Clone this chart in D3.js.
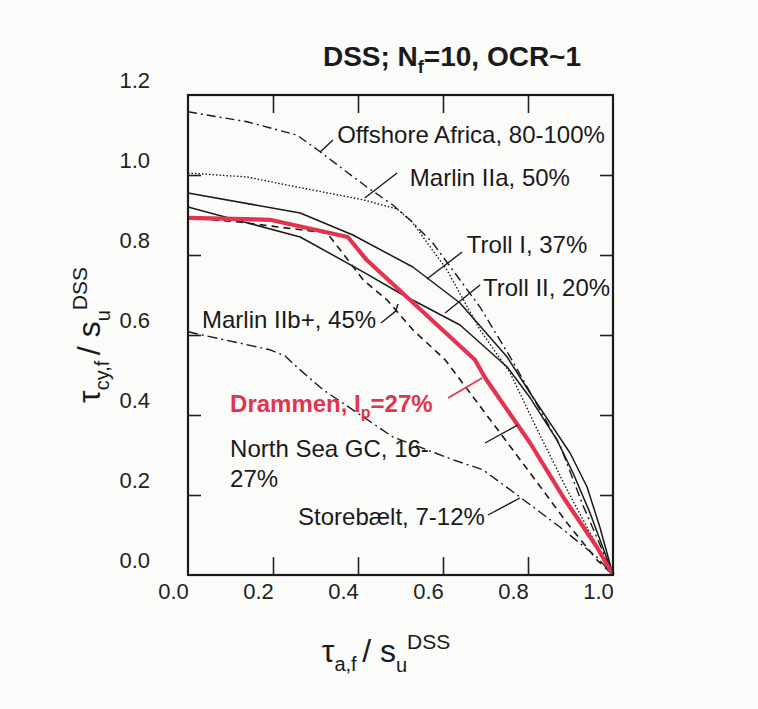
<!DOCTYPE html>
<html>
<head>
<meta charset="utf-8">
<script src="https://cdn.jsdelivr.net/npm/d3@7"></script>
<style>
  body { margin: 0; background: #fbfbfa; }
  svg { font-family: "Liberation Sans", Arial, sans-serif; }
</style>
</head>
<body>
<svg id="chart" width="758" height="709"></svg>
<script>

// values: [tau_a,f / su, tau_cy,f / su]
var offshoreAfrica = [[0,1.158],[0.139,1.133],[0.256,1.10],[0.311,1.058],[0.358,1.02],[0.421,0.97],[0.482,0.925],[0.522,0.888],[0.576,0.83],[0.687,0.67],[0.762,0.538],[0.828,0.413],[0.875,0.325],[0.929,0.175],[1.0,0]];
var marlinIIa = [[0,1.005],[0.139,0.995],[0.256,0.97],[0.412,0.938],[0.492,0.915],[0.527,0.883],[0.553,0.845],[0.609,0.763],[0.687,0.613],[0.758,0.505],[0.828,0.35],[0.892,0.213],[0.946,0.105],[1.0,0]];
var trollI = [[0,0.955],[0.264,0.905],[0.388,0.85],[0.529,0.77],[0.64,0.68],[0.751,0.545],[0.805,0.455],[0.847,0.388],[0.899,0.305],[0.939,0.22],[0.969,0.12],[1.0,0]];
var trollII = [[0,0.92],[0.264,0.845],[0.412,0.758],[0.506,0.70],[0.64,0.625],[0.751,0.52],[0.805,0.443],[0.868,0.338],[0.906,0.255],[0.946,0.155],[1.0,0]];
var marlinIIb = [[0,0.893],[0.115,0.883],[0.327,0.855],[0.358,0.813],[0.412,0.738],[0.468,0.688],[0.529,0.613],[0.605,0.538],[0.717,0.38],[0.812,0.245],[0.892,0.13],[0.962,0.038],[1.0,0]];
var drammen = [[0,0.893],[0.193,0.888],[0.376,0.845],[0.42,0.788],[0.675,0.538],[0.699,0.493],[0.805,0.33],[0.887,0.188],[0.962,0.07],[1.0,0]];
var storebaelt = [[0,0.608],[0.193,0.563],[0.228,0.548],[0.256,0.52],[0.318,0.463],[0.388,0.413],[0.482,0.345],[0.562,0.313],[0.624,0.288],[0.694,0.263],[0.781,0.195],[0.875,0.12],[0.962,0.045],[1.0,0]];

var xTicks = [0, 0.2, 0.4, 0.6, 0.8, 1.0];
var yTicks = [0, 0.2, 0.4, 0.6, 0.8, 1.0, 1.2];

var labelTexts = ['Offshore Africa, 80-100%', 'Marlin IIa, 50%', 'Troll I, 37%', 'Troll II, 20%',
                  'Marlin IIb+, 45%', 'North Sea GC, 16-', '27%', 'Storebælt, 7-12%'];

var red = '#e3344f';

var padL = 188, padT = 95, width = 425, height = 480;

var svg = d3.select('#chart');

var x = d3.scaleLinear().domain([0, 1]).range([padL, padL + width]);
var y = d3.scaleLinear().domain([0, 1.2]).range([padT + height, padT]);

// frame ticks, all pointing inward
svg.append('g').attr('transform', 'translate(0,' + (padT + height) + ')')
   .call(d3.axisBottom(x).tickValues([0.2, 0.4, 0.6, 0.8]).tickSize(-18).tickFormat(''));
svg.append('g').attr('transform', 'translate(0,' + padT + ')')
   .call(d3.axisTop(x).tickValues([0.2, 0.4, 0.6, 0.8]).tickSize(-18).tickFormat(''));
svg.append('g').attr('transform', 'translate(' + padL + ',0)')
   .call(d3.axisLeft(y).tickValues([0.2, 0.4, 0.6, 0.8, 1.0]).tickSize(-13).tickFormat(''));
svg.append('g').attr('transform', 'translate(' + (padL + width) + ',0)')
   .call(d3.axisRight(y).tickValues([0.2, 0.4, 0.6, 0.8, 1.0]).tickSize(-13).tickFormat(''));
svg.selectAll('.domain').remove();
svg.selectAll('.tick line').attr('stroke', '#222').attr('stroke-width', 1.6);

// tick labels (sit a little off their ticks in the scan)
var xl = svg.append('g').attr('transform', 'translate(0,' + (padT + height) + ')')
   .call(d3.axisBottom(x).tickValues(xTicks).tickSize(0).tickPadding(8).tickFormat(d3.format('.1f')));
var yl = svg.append('g').attr('transform', 'translate(' + padL + ',0)')
   .call(d3.axisLeft(y).tickValues(yTicks).tickSize(0).tickPadding(38).tickFormat(d3.format('.1f')));
xl.select('.domain').remove();
yl.select('.domain').remove();
xl.selectAll('text').attr('font-size', 22).attr('fill', '#222').attr('font-family', 'Liberation Sans, Arial')
  .attr('dx', -15);
yl.selectAll('text').attr('font-size', 22).attr('fill', '#222').attr('font-family', 'Liberation Sans, Arial')
  .attr('dy', '-0.35em');

// curves
var line = d3.line().x(function(d){ return x(d[0]); }).y(function(d){ return y(d[1]); });

var curves = [
  {data: storebaelt, dash: '10,4,2,4', w: 1.4, color: '#1a1a1a'},
  {data: marlinIIb, dash: '7,5', w: 1.6, color: '#1a1a1a'},
  {data: offshoreAfrica, dash: '9,4,2,4', w: 1.4, color: '#1a1a1a'},
  {data: marlinIIa, dash: '1.5,2', w: 1.4, color: '#1a1a1a'},
  {data: trollI, dash: null, w: 1.5, color: '#1a1a1a'},
  {data: trollII, dash: null, w: 1.5, color: '#1a1a1a'},
  {data: drammen, dash: null, w: 4.2, color: red}
];

svg.append('g').selectAll('path')
   .data(curves)
   .join('path')
     .attr('d', function(d){ return line(d.data); })
     .attr('fill', 'none')
     .attr('stroke', function(d){ return d.color; })
     .attr('stroke-width', function(d){ return d.w; })
     .attr('stroke-dasharray', function(d){ return d.dash; })
     .attr('stroke-linejoin', 'round');

// frame
svg.append('rect')
   .attr('x', padL).attr('y', padT)
   .attr('width', width).attr('height', height)
   .attr('fill', 'none').attr('stroke', '#1a1a1a').attr('stroke-width', 2.2);

// leaders, in data units
var leaders = [
  [[0.341,1.0875],[0.311,1.0575]],
  [[0.492,1.005],[0.416,0.9425]],
  [[0.645,0.8075],[0.562,0.74]],
  [[0.687,0.725],[0.605,0.655]],
  [[0.454,0.63],[0.489,0.66],[0.494,0.6775]],
  [[0.699,0.33],[0.776,0.375]],
  [[0.706,0.15],[0.781,0.1925]]
];
svg.append('g').selectAll('path')
   .data(leaders)
   .join('path')
     .attr('d', line)
     .attr('fill', 'none')
     .attr('stroke', '#1a1a1a')
     .attr('stroke-width', 1.4);

svg.append('path')
   .attr('d', line([[0.612,0.4425],[0.692,0.4925]]))
   .attr('fill', 'none').attr('stroke', red).attr('stroke-width', 1.6);

// curve labels
var labelPos = [[0.351,1.08],[0.522,0.9725],[0.656,0.805],[0.694,0.6975],
                [0.033,0.6175],[0.099,0.295],[0.099,0.22],[0.259,0.125]];
svg.append('g').selectAll('text')
   .data(labelTexts)
   .join('text')
     .attr('x', function(d, i){ return x(labelPos[i][0]); })
     .attr('y', function(d, i){ return y(labelPos[i][1]); })
     .attr('font-size', 24)
     .attr('fill', '#1a1a1a')
     .text(function(d){ return d; });

var dr = svg.append('text')
   .attr('x', x(0.099)).attr('y', y(0.4075))
   .attr('font-size', 24).attr('font-weight', 'bold').attr('fill', red);
dr.append('tspan').text('Drammen, I');
dr.append('tspan').attr('font-size', 16).attr('dy', 6).text('p');
dr.append('tspan').attr('dy', -6).text('=27%');

// title
var t = svg.append('text')
   .attr('x', 452).attr('y', 66)
   .attr('text-anchor', 'middle')
   .attr('font-size', 28).attr('font-weight', 'bold').attr('fill', '#1a1a1a');
t.append('tspan').text('DSS; N');
t.append('tspan').attr('font-size', 18).attr('dy', 7).text('f');
t.append('tspan').attr('dy', -7).text('=10, OCR~1');

// axis titles
function axisTitle(g, sub){
  g.append('tspan').attr('font-size', 32).text('\u03c4');
  g.append('tspan').attr('font-size', 20).attr('dy', 9).text(sub);
  g.append('tspan').attr('font-size', 32).attr('dy', -9).text('/ s');
  g.append('tspan').attr('font-size', 20).attr('dy', 10).text('u');
  g.append('tspan').attr('font-size', 21).attr('dy', -23).text('DSS');
}

var xt = svg.append('text')
   .attr('x', 386).attr('y', 662)
   .attr('text-anchor', 'middle').attr('fill', '#1a1a1a');
axisTitle(xt, 'a,f ');

var yt = svg.append('text')
   .attr('transform', 'translate(100,' + (padT + height / 2) + ') rotate(-90)')
   .attr('text-anchor', 'middle').attr('fill', '#1a1a1a');
axisTitle(yt, 'cy,f ');

</script>
</body>
</html>
